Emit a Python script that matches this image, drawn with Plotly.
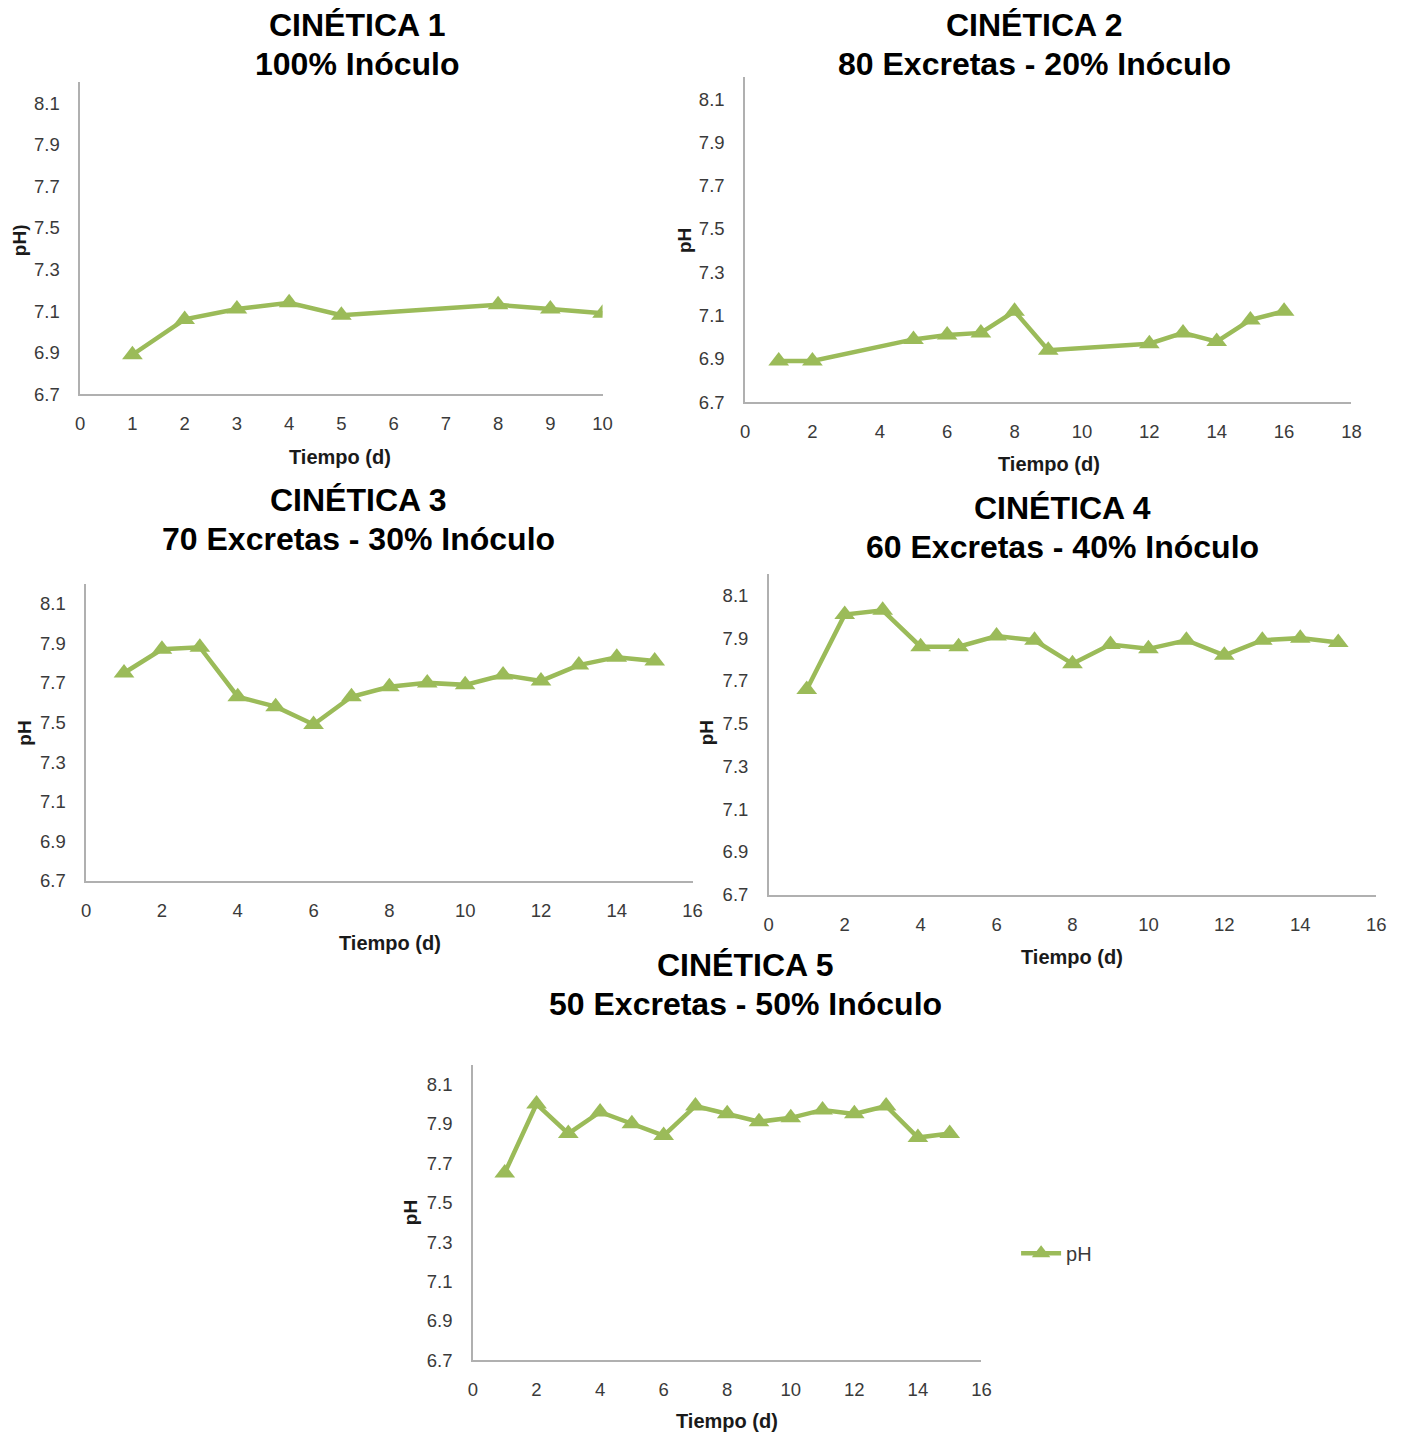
import plotly.graph_objects as go

W, H = 1406, 1438
GREEN = "#9BBB59"
AXIS_GRAY = "#B0B0B0"
FONT = "Liberation Sans, Arial, sans-serif"

# --- data: pH over time (days) for each kinetic run ---
t1 = [1, 2, 3, 4, 5, 8, 9, 10]
ph1 = [6.89, 7.06, 7.11, 7.14, 7.08, 7.13, 7.11, 7.09]

t2 = [1, 2, 5, 6, 7, 8, 9, 12, 13, 14, 15, 16]
ph2 = [6.89, 6.89, 6.99, 7.01, 7.02, 7.12, 6.94, 6.97, 7.02, 6.98, 7.08, 7.12]

t3 = list(range(1, 16))
ph3 = [7.75, 7.87, 7.88, 7.63, 7.58, 7.49, 7.63, 7.68, 7.70, 7.69, 7.74, 7.71, 7.79, 7.83, 7.81]

t4 = list(range(1, 16))
ph4 = [7.66, 8.01, 8.03, 7.86, 7.86, 7.91, 7.89, 7.78, 7.87, 7.85, 7.89, 7.82, 7.89, 7.90, 7.88]

t5 = list(range(1, 16))
ph5 = [7.65, 8.00, 7.85, 7.96, 7.90, 7.84, 7.99, 7.95, 7.91, 7.93, 7.97, 7.95, 7.99, 7.83, 7.85]

titles = [
    ("CINÉTICA 1", "100% Inóculo"),
    ("CINÉTICA 2", "80 Excretas - 20% Inóculo"),
    ("CINÉTICA 3", "70 Excretas - 30% Inóculo"),
    ("CINÉTICA 4", "60 Excretas - 40% Inóculo"),
    ("CINÉTICA 5", "50 Excretas - 50% Inóculo"),
]
y_titles = ["pH)", "pH", "pH", "pH", "pH"]
x_title = "Tiempo (d)"
y_ticks = [6.7, 6.9, 7.1, 7.3, 7.5, 7.7, 7.9, 8.1]

series = [(t1, ph1), (t2, ph2), (t3, ph3), (t4, ph4), (t5, ph5)]
x_ranges = [(0, 10, 1), (0, 18, 2), (0, 16, 2), (0, 16, 2), (0, 16, 2)]

# plot-area boxes in layout pixels: left, top, right, bottom
boxes = [
    (76, 83, 604, 397),
    (748, 78, 1361, 405),
    (82, 588, 695, 887),
    (772, 578, 1386, 901),
    (473, 1072, 987, 1370),
]
# title centre x and the y of its two lines; axis-title centres
title_pos = [(356, 25, 64), (1041, 25, 64), (357, 503, 543), (1069, 512, 551), (748, 972, 1011)]
xtitle_pos = [(339, 460), (1055, 467), (389, 950), (1079, 964), (730, 1431)]
ytitle_pos = [(14, 242), (687, 242), (20, 738), (709, 738), (410, 1221)]


def px(x):
    return x / W


def py(y):
    return 1 - y / H


fig = go.Figure()
annotations = []

for i, ((tx, ph), (x0, x1, dx), box) in enumerate(zip(series, x_ranges, boxes)):
    n = "" if i == 0 else str(i + 1)
    fig.add_trace(go.Scatter(
        x=tx, y=ph, mode="lines+markers", name="pH",
        line=dict(color=GREEN, width=4.5),
        marker=dict(symbol="triangle-up", size=18, color=GREEN),
        xaxis="x" + n, yaxis="y" + n,
        showlegend=(i == 4),
    ))
    l, t, r, b = box
    common = dict(
        showline=True, linecolor=AXIS_GRAY, linewidth=1.5,
        showgrid=False, zeroline=False, ticks="",
        tickfont=dict(family=FONT, size=18.5, color="#3A3A3A"),
    )
    fig.update_layout(**{
        "xaxis" + n: dict(
            domain=[px(l), px(r)], range=[x0, x1], tickmode="linear",
            tick0=0, dtick=dx, anchor="y" + n, ticklabelstandoff=12, **common),
        "yaxis" + n: dict(
            domain=[py(b), py(t)], range=[6.7, 8.2], tickmode="array",
            tickvals=y_ticks, ticktext=[f"{v:.1f}" for v in y_ticks],
            anchor="x" + n, ticklabelstandoff=15, **common),
    })

    cx, ty1, ty2 = title_pos[i]
    for text, yy in ((titles[i][0], ty1), (titles[i][1], ty2)):
        annotations.append(dict(
            text=f"<b>{text}</b>", x=px(cx), y=py(yy), xref="paper", yref="paper",
            xanchor="center", yanchor="middle", showarrow=False,
            font=dict(family=FONT, size=32, color="#000000")))
    xx, xy = xtitle_pos[i]
    annotations.append(dict(
        text=f"<b>{x_title}</b>", x=px(xx), y=py(xy), xref="paper", yref="paper",
        xanchor="center", yanchor="middle", showarrow=False,
        font=dict(family=FONT, size=20, color="#1A1A1A")))
    yx, yy = ytitle_pos[i]
    annotations.append(dict(
        text=f"<b>{y_titles[i]}</b>", x=px(yx), y=py(yy), xref="paper", yref="paper",
        xanchor="center", yanchor="middle", showarrow=False, textangle=-90,
        font=dict(family=FONT, size=19, color="#1A1A1A")))

fig.update_layout(
    width=W, height=H,
    margin=dict(l=0, r=0, t=0, b=0),
    paper_bgcolor="white", plot_bgcolor="white",
    annotations=annotations,
    showlegend=True,
    legend=dict(
        x=px(1022), y=py(1262), xanchor="left", yanchor="middle",
        bgcolor="rgba(0,0,0,0)", itemwidth=40,
        font=dict(family=FONT, size=20, color="#3A3A3A"),
    ),
)

fig.write_html("out.html")
